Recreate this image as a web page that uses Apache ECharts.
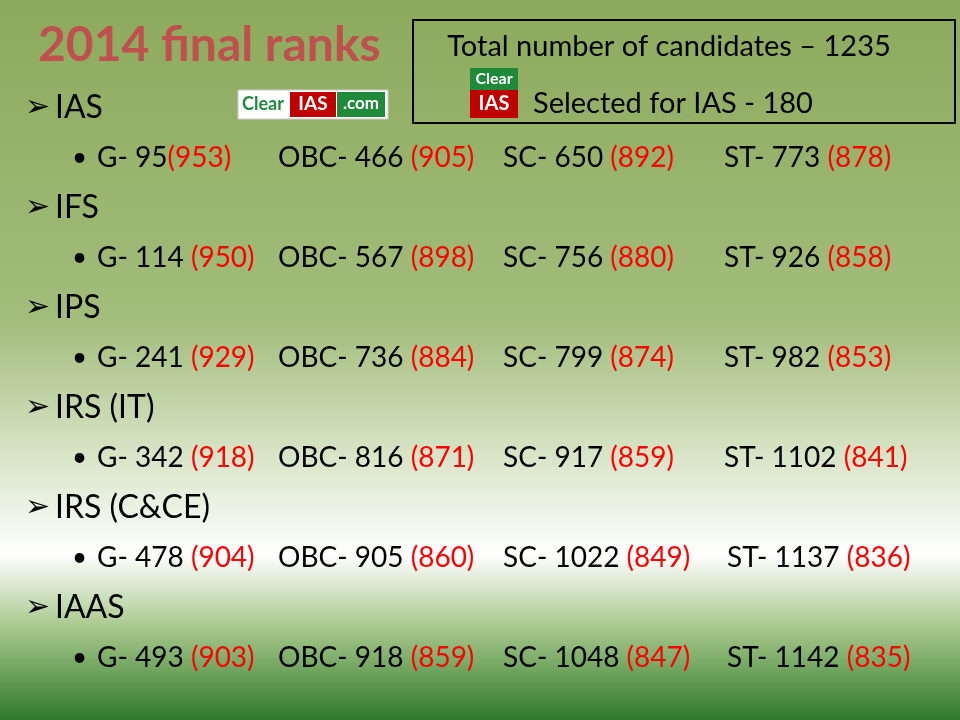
<!DOCTYPE html>
<html><head><meta charset="utf-8">
<script src="https://cdn.jsdelivr.net/npm/echarts@6/dist/echarts.min.js"></script>
<style>html,body{margin:0;padding:0}#c{width:960px;height:720px}</style>
</head><body><div id="c"></div>
<script>
const title = "2014 final ranks";
const services = ["IAS", "IFS", "IPS", "IRS (IT)", "IRS (C&CE)", "IAAS"];
const categories = ["G", "OBC", "SC", "ST"];
const ranks = [[95, 466, 650, 773],[114, 567, 756, 926],[241, 736, 799, 982],[342, 816, 917, 1102],[478, 905, 1022, 1137],[493, 918, 1048, 1142]];
const marks = [[953, 905, 892, 878],[950, 898, 880, 858],[929, 884, 874, 853],[918, 871, 859, 841],[904, 860, 849, 836],[903, 859, 847, 835]];
const totalCandidates = 1235;
const selectedIAS = 180;

const F = 'Lato, "Open Sans", sans-serif';
const colX = [97, 278, 503, 724];
const colXLate = [97, 278, 503, 727];
const g = [];
g.push({type:'rect', shape:{x:0,y:0,width:960,height:720}, z:0, style:{fill:new echarts.graphic.LinearGradient(0,0,0,1,[
  {offset:0,color:'#8caa5c'},{offset:0.45,color:'#a3bd7c'},{offset:0.62,color:'#d4e2c2'},{offset:0.77,color:'#ffffff'},
  {offset:0.87,color:'#a9c98d'},{offset:1,color:'#2f7a2a'}])}});
g.push({type:'text', left:38, top:22, z:5, style:{text:title, font:'bold 48px '+F, fill:'#c0504d'}});
g.push({type:'rect', shape:{x:413,y:20,width:542,height:103}, z:5, style:{fill:'none', stroke:'#000', lineWidth:2}});
g.push({type:'text', x:669, y:47, z:6, style:{text:'Total number of candidates – '+totalCandidates, font:'29px '+F, fill:'#000', align:'center', verticalAlign:'middle'}});
g.push({type:'text', x:533, y:104, z:6, style:{text:'Selected for IAS - '+selectedIAS, font:'29px '+F, fill:'#000', verticalAlign:'middle'}});
g.push({type:'rect', shape:{x:470,y:68,width:48,height:22}, z:6, style:{fill:'#1e8a3a'}});
g.push({type:'text', x:494, y:79, z:7, style:{text:'Clear', font:'bold 16px '+F, fill:'#fff', align:'center', verticalAlign:'middle'}});
g.push({type:'rect', shape:{x:470,y:90,width:48,height:28}, z:6, style:{fill:'#c00000'}});
g.push({type:'text', x:494, y:104, z:7, style:{text:'IAS', font:'bold 20px '+F, fill:'#fff', align:'center', verticalAlign:'middle'}});
g.push({type:'rect', shape:{x:238,y:90,width:150,height:29}, z:6, style:{fill:'#fff', stroke:'#ccc'}});
g.push({type:'text', x:242, y:104, z:7, style:{text:'Clear', font:'bold 18px '+F, fill:'#1e8a3a', verticalAlign:'middle'}});
g.push({type:'rect', shape:{x:290,y:92,width:46,height:25}, z:6, style:{fill:'#c00000'}});
g.push({type:'text', x:313, y:104, z:7, style:{text:'IAS', font:'bold 19px '+F, fill:'#fff', align:'center', verticalAlign:'middle'}});
g.push({type:'rect', shape:{x:337,y:92,width:48,height:25}, z:6, style:{fill:'#1e8a3a'}});
g.push({type:'text', x:361, y:104, z:7, style:{text:'.com', font:'bold 17px '+F, fill:'#fff', align:'center', verticalAlign:'middle'}});

services.forEach((s,i)=>{
  const y = 108 + i*100;
  g.push({type:'text', x:25, y:y, z:5, style:{text:'➢', font:'bold 30px "DejaVu Sans"', fill:'#000', verticalAlign:'middle'}});
  g.push({type:'text', x:55, y:y, z:5, style:{text:s, font:'32px '+F, fill:'#000', verticalAlign:'middle'}});
  const by = y + 50;
  g.push({type:'text', x:72, y:by, z:5, style:{text:'•', font:'26px '+F, fill:'#000', verticalAlign:'middle'}});
  const xs = i>=4 ? colXLate : colX;
  categories.forEach((c,j)=>{
    const sep = (i===0 && j===0) ? '' : ' ';
    g.push({type:'text', x:xs[j], y:by, z:5, style:{
      text:'{b|'+c+'- '+ranks[i][j]+sep+'}{r|('+marks[i][j]+')}',
      verticalAlign:'middle',
      rich:{b:{font:'28px '+F, fill:'#000'}, r:{font:'28px '+F, fill:'#ff0000'}}}});
  });
});
const chart = echarts.init(document.getElementById('c'));
chart.setOption({animation:false, graphic:g});
</script></body></html>
